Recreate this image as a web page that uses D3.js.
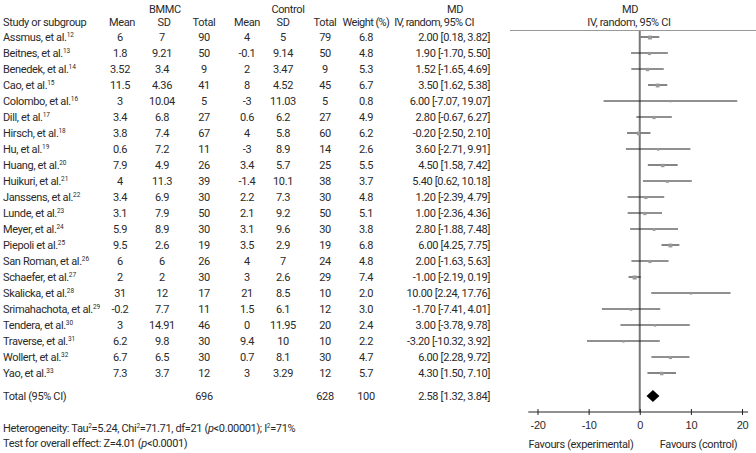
<!DOCTYPE html>
<html>
<head>
<meta charset="utf-8">
<script src="https://cdn.jsdelivr.net/npm/d3@7/dist/d3.min.js"></script>
<style>
  body { margin: 0; background: #fff; }
  svg { font-family: Roboto, "Liberation Sans", sans-serif; font-size: 11px; letter-spacing: -0.35px; fill: #2a2a2a; }
</style>
</head>
<body>
<div id="chart"></div>
<script>
// study data
var studies = ["Assmus, et al.", "Beitnes, et al.", "Benedek, et al.", "Cao, et al.", "Colombo, et al.",
    "Dill, et al.", "Hirsch, et al.", "Hu, et al.", "Huang, et al.", "Huikuri, et al.", "Janssens, et al.",
    "Lunde, et al.", "Meyer, et al.", "Piepoli et al.", "San Roman, et al.", "Schaefer, et al.",
    "Skalicka, et al.", "Srimahachota, et al.", "Tendera, et al.", "Traverse, et al.", "Wollert, et al.", "Yao, et al."];
var refs = [12, 13, 14, 15, 16, 17, 18, 19, 20, 21, 22, 23, 24, 25, 26, 27, 28, 29, 30, 31, 32, 33];

var bmmcMean = [6, 1.8, 3.52, 11.5, 3, 3.4, 3.8, 0.6, 7.9, 4, 3.4, 3.1, 5.9, 9.5, 6, 2, 31, -0.2, 3, 6.2, 6.7, 7.3];
var bmmcSD   = [7, 9.21, 3.4, 4.36, 10.04, 6.8, 7.4, 7.2, 4.9, 11.3, 6.9, 7.9, 8.9, 2.6, 6, 2, 12, 7.7, 14.91, 9.8, 6.5, 3.7];
var bmmcN    = [90, 50, 9, 41, 5, 27, 67, 11, 26, 39, 30, 50, 30, 19, 26, 30, 17, 11, 46, 30, 30, 12];

var ctrlMean = [4, -0.1, 2, 8, -3, 0.6, 4, -3, 3.4, -1.4, 2.2, 2.1, 3.1, 3.5, 4, 3, 21, 1.5, 0, 9.4, 0.7, 3];
var ctrlSD   = [5, 9.14, 3.47, 4.52, 11.03, 6.2, 5.8, 8.9, 5.7, 10.1, 7.3, 9.2, 9.6, 2.9, 7, 2.6, 8.5, 6.1, 11.95, 10, 8.1, 3.29];
var ctrlN    = [79, 50, 9, 45, 5, 27, 60, 14, 25, 38, 30, 50, 30, 19, 24, 29, 10, 12, 20, 10, 30, 12];

var weight = [6.8, 4.8, 5.3, 6.7, 0.8, 4.9, 6.2, 2.6, 5.5, 3.7, 4.8, 5.1, 3.8, 6.8, 4.8, 7.4, 2.0, 3.0, 2.4, 2.2, 4.7, 5.7];
var md     = [2.00, 1.90, 1.52, 3.50, 6.00, 2.80, -0.20, 3.60, 4.50, 5.40, 1.20, 1.00, 2.80, 6.00, 2.00, -1.00, 10.00, -1.70, 3.00, -3.20, 6.00, 4.30];
var ciLow  = [0.18, -1.70, -1.65, 1.62, -7.07, -0.67, -2.50, -2.71, 1.58, 0.62, -2.39, -2.36, -1.88, 4.25, -1.63, -2.19, 2.24, -7.41, -3.78, -10.32, 2.28, 1.50];
var ciHigh = [3.82, 5.50, 4.69, 5.38, 19.07, 6.27, 2.10, 9.91, 7.42, 10.18, 4.79, 4.36, 7.48, 7.75, 5.63, 0.19, 17.76, 4.01, 9.78, 3.92, 9.72, 7.10];

// pooled result
var total = {n1: 696, n2: 628, weight: 100, md: 2.58, lo: 1.32, hi: 3.84};

var ticks = [-20, -10, 0, 10, 20];

var width = 756, height = 453;

var svg = d3.select("#chart").append("svg")
    .attr("width", width)
    .attr("height", height);

var rows = studies.map(function(s, i) {
    return {name: s, ref: refs[i], m1: bmmcMean[i], sd1: bmmcSD[i], n1: bmmcN[i],
        m2: ctrlMean[i], sd2: ctrlSD[i], n2: ctrlN[i], w: weight[i], md: md[i], lo: ciLow[i], hi: ciHigh[i]};
});

// row positions
var y = d3.scaleBand()
    .domain(d3.range(rows.length))
    .range([29, 29 + 16 * rows.length]);
var totalY = 396;

// forest plot scale
var x = d3.scaleLinear()
    .domain([-20, 20])
    .range([537.5, 742]);

function fmt(v) { return v.toFixed(2); }

// column headers
var head = svg.append("g");
head.append("text").attr("x", 165).attr("y", 13).attr("text-anchor", "middle").text("BMMC");
head.append("text").attr("x", 288).attr("y", 13).attr("text-anchor", "middle").text("Control");
head.append("text").attr("x", 455).attr("y", 13).attr("text-anchor", "middle").text("MD");
head.append("text").attr("x", 630).attr("y", 13).attr("text-anchor", "middle").text("MD");

var cols = [
    {x: 3, anchor: "start", label: "Study or subgroup"},
    {x: 122, anchor: "middle", label: "Mean"},
    {x: 164, anchor: "middle", label: "SD"},
    {x: 204, anchor: "middle", label: "Total"},
    {x: 247, anchor: "middle", label: "Mean"},
    {x: 283, anchor: "middle", label: "SD"},
    {x: 325, anchor: "middle", label: "Total"},
    {x: 366, anchor: "middle", label: "Weight (%)"},
    {x: 434, anchor: "middle", label: "IV, random, 95% CI"},
    {x: 629, anchor: "middle", label: "IV, random, 95% CI"}
];
head.selectAll(".ch").data(cols).enter().append("text")
    .attr("x", function(d) { return d.x; })
    .attr("y", 26)
    .attr("text-anchor", function(d) { return d.anchor; })
    .style("letter-spacing", function(d) { return d.x > 350 && d.x < 500 ? "-0.55px" : null; })
    .text(function(d) { return d.label; });

// header rule over the plot
svg.append("line")
    .attr("x1", 510).attr("x2", width)
    .attr("y1", 30.5).attr("y2", 30.5)
    .style("stroke", "#999").style("stroke-width", 1);

// table rows
var table = svg.append("g");
var rowG = table.selectAll(".row").data(rows).enter().append("g")
    .attr("transform", function(d, i) { return "translate(0," + (y(i) + y.bandwidth() / 2 + 4) + ")"; });

var nameT = rowG.append("text").attr("x", 3);
nameT.append("tspan").text(function(d) { return d.name; });
nameT.append("tspan").attr("dy", -4).style("font-size", "6.5px").style("letter-spacing", "0")
    .text(function(d) { return d.ref; });

var cells = [
    {x: 120, key: "m1"}, {x: 162, key: "sd1"}, {x: 204, key: "n1"},
    {x: 247, key: "m2"}, {x: 283, key: "sd2"}, {x: 325, key: "n2"}
];
cells.forEach(function(c) {
    rowG.append("text").attr("x", c.x).attr("text-anchor", "middle")
        .text(function(d) { return d[c.key]; });
});
rowG.append("text").attr("x", 366).attr("text-anchor", "middle")
    .text(function(d) { return d.w.toFixed(1); });
rowG.append("text").attr("x", 490).attr("text-anchor", "end")
    .text(function(d) { return fmt(d.md) + " [" + fmt(d.lo) + ", " + fmt(d.hi) + "]"; });

// total row
var tot = svg.append("g").attr("transform", "translate(0," + (totalY + 4) + ")");
tot.append("text").attr("x", 3).text("Total (95% CI)");
tot.append("text").attr("x", 204).attr("text-anchor", "middle").text(total.n1);
tot.append("text").attr("x", 325).attr("text-anchor", "middle").text(total.n2);
tot.append("text").attr("x", 366).attr("text-anchor", "middle").text(total.weight);
tot.append("text").attr("x", 490).attr("text-anchor", "end")
    .text(fmt(total.md) + " [" + fmt(total.lo) + ", " + fmt(total.hi) + "]");

// heterogeneity notes
var het = svg.append("text").attr("x", 3).attr("y", 432);
het.append("tspan").text("Heterogeneity: Tau");
het.append("tspan").attr("dy", -4).style("font-size", "6.5px").text("2");
het.append("tspan").attr("dy", 4).text("=5.24, Chi");
het.append("tspan").attr("dy", -4).style("font-size", "6.5px").text("2");
het.append("tspan").attr("dy", 4).text("=71.71, df=21 (");
het.append("tspan").style("font-style", "italic").text("p");
het.append("tspan").text("<0.00001); I");
het.append("tspan").attr("dy", -4).style("font-size", "6.5px").text("2");
het.append("tspan").attr("dy", 4).text("=71%");

var eff = svg.append("text").attr("x", 3).attr("y", 447);
eff.append("tspan").text("Test for overall effect: Z=4.01 (");
eff.append("tspan").style("font-style", "italic").text("p");
eff.append("tspan").text("<0.0001)");

// forest plot
var plot = svg.append("g");
var axisY = 412;

plot.append("line")
    .attr("x1", x(0)).attr("x2", x(0))
    .attr("y1", 31).attr("y2", axisY)
    .style("stroke", "#777").style("stroke-width", 2);

var ci = plot.selectAll(".ci").data(rows).enter().append("g")
    .attr("transform", function(d, i) { return "translate(0," + (y(i) + y.bandwidth() / 2) + ")"; });

ci.append("line")
    .attr("x1", function(d) { return x(d.lo); })
    .attr("x2", function(d) { return x(d.hi); })
    .style("stroke", "#222").style("stroke-width", 1.1);

ci.append("rect")
    .attr("x", function(d) { return x(d.md) - (1.5 + d.w * 0.35) / 2; })
    .attr("y", function(d) { return -(1.5 + d.w * 0.35) / 2 + 0.5; })
    .attr("width", function(d) { return 1.5 + d.w * 0.35; })
    .attr("height", function(d) { return 1.5 + d.w * 0.35; })
    .style("fill", "#999");

// pooled diamond
plot.append("path")
    .attr("d", "M" + x(total.lo) + "," + totalY +
        "L" + x(total.md) + "," + (totalY - 6) +
        "L" + x(total.hi) + "," + totalY +
        "L" + x(total.md) + "," + (totalY + 6) + "Z")
    .style("fill", "#000");

// axis
var axis = plot.append("g")
    .attr("transform", "translate(0," + axisY + ")")
    .call(d3.axisBottom(x).tickValues(ticks).tickSize(3).tickSizeOuter(0).tickPadding(6));
axis.select(".domain").remove();
axis.selectAll(".tick line").attr("y1", -3).style("stroke", "#222");
axis.selectAll(".tick text")
    .style("font-family", "inherit").style("font-size", "11px").style("fill", "#2a2a2a")
    .text(function(d) { return d; });
axis.append("line")
    .attr("x1", x(-21.8)).attr("x2", x(21.2))
    .style("stroke", "#222").style("stroke-width", 1);

plot.append("text").attr("x", x(-11.5)).attr("y", 448).attr("text-anchor", "middle").text("Favours (experimental)");
plot.append("text").attr("x", x(11.5)).attr("y", 448).attr("text-anchor", "middle").text("Favours (control)");
</script>
</body>
</html>
